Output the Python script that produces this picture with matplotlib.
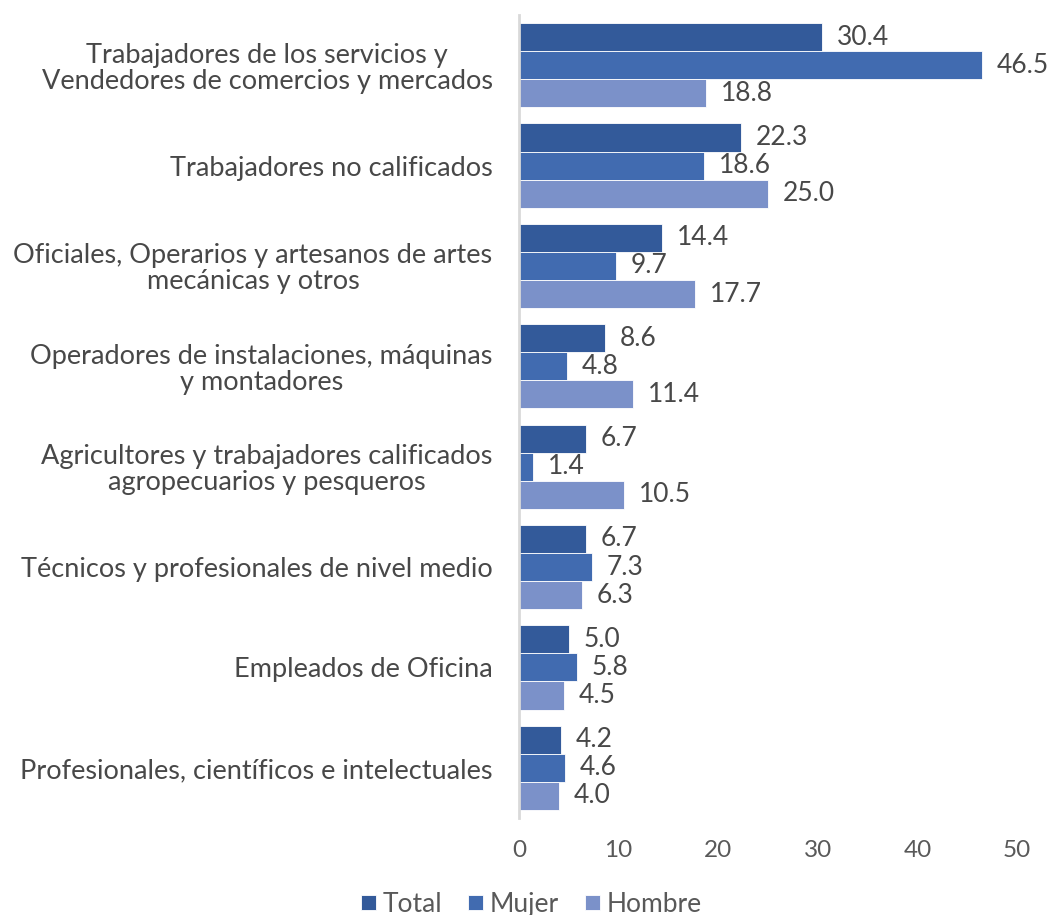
import matplotlib
matplotlib.use("Agg")
import matplotlib.pyplot as plt
import numpy as np

categories = [
    "Trabajadores de los servicios y\nVendedores de comercios y mercados",
    "Trabajadores no calificados",
    "Oficiales, Operarios y artesanos de artes\nmecánicas y otros",
    "Operadores de instalaciones, máquinas\ny montadores",
    "Agricultores y trabajadores calificados\nagropecuarios y pesqueros",
    "Técnicos y profesionales de nivel medio",
    "Empleados de Oficina",
    "Profesionales, científicos e intelectuales",
]
total = [30.4, 22.3, 14.4, 8.6, 6.7, 6.7, 5.0, 4.2]
mujer = [46.5, 18.6, 9.7, 4.8, 1.4, 7.3, 5.8, 4.6]
hombre = [18.8, 25.0, 17.7, 11.4, 10.5, 6.3, 4.5, 4.0]
series_names = ["Total", "Mujer", "Hombre"]
colors = ["#335A9A", "#416BB0", "#7B91C9"]
xticks = [0, 10, 20, 30, 40, 50]

plt.rcParams['font.family'] = ['Lato', 'DejaVu Sans']

fig = plt.figure(figsize=(10.52, 9.15), dpi=100)
ax = fig.add_axes([519/1052, 1 - 818/915, (1017-519)/1052, (818-15)/915])

n = len(categories)
y = np.arange(n)
h = 0.28
offsets = [-h, 0, h]
for vals, off, c, name in zip([total, mujer, hombre], offsets, colors, series_names):
    bars = ax.barh(y + off, vals, height=h, color=c, edgecolor="white", linewidth=0.6, label=name)
    for b, v in zip(bars, vals):
        ax.text(b.get_width() + 1.5, b.get_y() + b.get_height() / 2, f"{v:.1f}",
                va="center", ha="left", fontsize=19, color="#484848")

ax.set_ylim(n - 0.5, -0.5)
ax.set_xlim(0, 50)
ax.set_xticks(xticks)
ax.set_xticklabels([str(t) for t in xticks], fontsize=17.5, color="#595959")
ax.set_yticks(y)
ax.set_yticklabels(categories, fontsize=19.5, color="#484848", ha="right",
                   multialignment="center", linespacing=1.05)
ax.tick_params(axis="both", length=0)
ax.tick_params(axis="x", pad=16)
ax.tick_params(axis="y", pad=19)
for s in ["top", "right", "bottom"]:
    ax.spines[s].set_visible(False)
ax.spines["left"].set_color("#D9D9D9")
ax.spines["left"].set_linewidth(2)

leg = fig.legend(loc="lower center", bbox_to_anchor=(0.505, -0.028), ncol=3, frameon=False,
                 fontsize=19, handlelength=0.55, handleheight=0.55, handletextpad=0.25,
                 columnspacing=1.0)
for t in leg.get_texts():
    t.set_color("#595959")

fig.savefig("out.png", dpi=100)
